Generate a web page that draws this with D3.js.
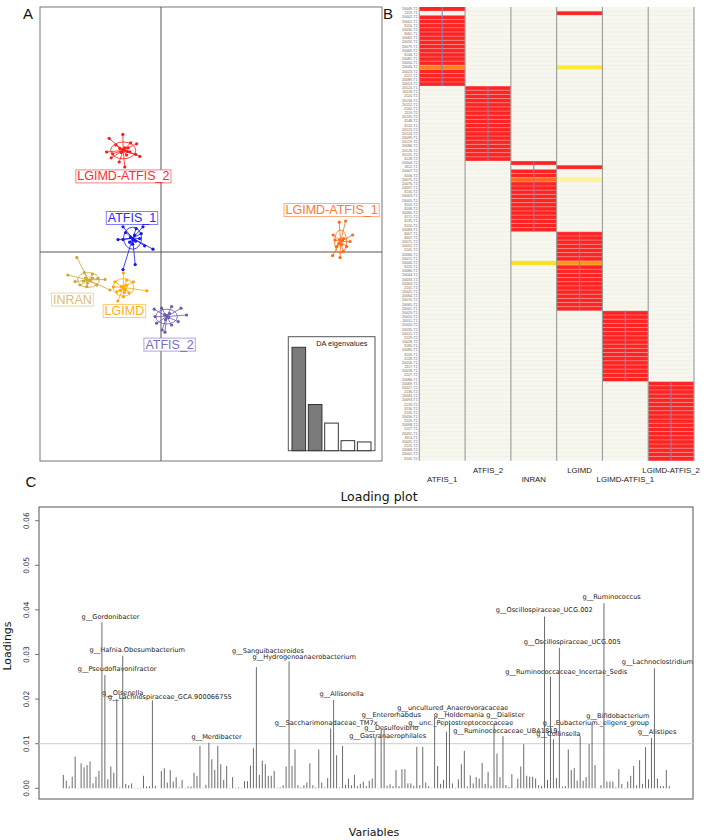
<!DOCTYPE html>
<html><head><meta charset="utf-8">
<script src="https://cdn.jsdelivr.net/npm/d3@7"></script>
<style>body{margin:0;background:#fff}svg{display:block}</style>
</head><body><svg id="c" width="709" height="840"></svg>
<script>
// ---------------- DATA ----------------
const groups = ["ATFIS_1","ATFIS_2","INRAN","LGIMD","LGIMD-ATFIS_1","LGIMD-ATFIS_2"];
// DA scatter: group centroids (LD1, LD2)
const centroidLD1 = [-1.42, 0.28, -3.63, -1.88, 8.98, -1.89];
const centroidLD2 = [0.69, -3.23, -1.40, -1.77, 0.52, 5.08];
// individual scores, offsets from centroid (LD units)
const pointsATFIS1 = [[-0.48,0.57],[-0.35,0.28],[0.18,0.48],[0.52,0.57],[-0.73,-0.07],[-0.48,-0.07],[0.35,-0.02],[0.43,0.23],[1.02,-0.55],[0.60,-0.38],[-0.48,-1.57],[0.13,-1.32],[0.05,-0.10],[-0.10,0.05],[0.15,-0.15],[-0.15,-0.20],[0.10,0.15],[0,-0.30]];
const pointsATFIS2 = [[-0.62,0.37],[-0.25,0.42],[0.25,0.50],[0.72,0.42],[1.00,0.08],[0.58,-0.25],[0.25,-0.42],[-0.22,-0.67],[-0.08,-0.78],[-0.50,-0.33],[-0.58,0],[0.10,-0.05],[-0.10,0.10],[0.15,0.15],[-0.05,-0.15],[0,0.05]];
const pointsINRAN = [[-0.58,1.13],[-1.03,0.25],[-0.67,-0.08],[-0.42,-0.25],[-0.20,0.37],[0.20,0.30],[0.47,0.08],[0.83,0.03],[0.42,-0.25],[-0.08,-0.33],[1.08,-0.50],[0.10,-0.05],[-0.15,0.10],[-0.05,-0.15],[0.20,0.10],[-0.25,-0.05]];
const pointsLGIMD = [[0,0.73],[-0.42,0.28],[-0.50,0.03],[-0.33,-0.22],[0,-0.47],[0.28,-0.27],[1.17,-0.17],[0.50,0.28],[0.17,0.37],[-0.28,-0.68],[0.10,-0.10],[-0.10,0.05],[0.15,0.10],[-0.15,-0.15],[0.05,-0.25]];
const pointsLGIMDATFIS1 = [[-0.07,0.97],[0.25,1.03],[-0.37,0.33],[-0.28,0.08],[0.60,0.33],[0.47,0],[-0.40,-0.70],[-0.03,-0.80],[0.13,-0.50],[0.30,-0.25],[-0.20,-0.25],[0.10,0.05],[-0.10,-0.10],[0.05,-0.15],[0.15,0.15],[-0.05,0.10]];
const pointsLGIMDATFIS2 = [[-0.70,0.60],[-0.02,0.80],[-0.37,0.27],[0.37,0.38],[0.67,0.33],[-0.83,-0.08],[-0.53,-0.17],[0.33,-0.07],[0.83,-0.30],[0.62,-0.20],[-0.20,-0.58],[0.08,-0.83],[-0.60,-0.37],[0.17,-0.23],[0,0.05],[0.08,0.13],[-0.17,0.10],[0.25,0.13],[-0.10,-0.10],[0.20,-0.05]];
// inertia ellipse half-axes (LD units)
const ellipseRx = [0.45, 0.54, 0.55, 0.52, 0.30, 0.63];
const ellipseRy = [0.55, 0.37, 0.37, 0.44, 0.58, 0.42];
// label anchors (LD units)
const labelLD1 = [-1.45, 0.43, -4.43, -1.83, 8.53, -1.88];
const labelLD2 = [1.70, -4.63, -2.38, -2.95, 2.10, 3.78];
// DA eigenvalues
const eigenvalues = [103, 46, 27.5, 10, 8.7];
const eigenRetained = 2;

// Heatmap: samples grouped by original group
const blockSizes = [19, 18, 17, 19, 17, 19];
const sampleLabels = [
 "20049-T2","2119-T1","20002-T2","20001-T2","3150-T2","20030-T2","3061-T1","20062-T1","20092-T2","20079-T1","20069-T2","3144-T2","20081-T1","20050-T1","20045-T2","20023-T2","2122-T2","20089-T1","20053-T2",
 "20124-T1","20118-T1","2120-T2","20134-T2","20122-T1","2162-T1","2119-T2","20135-T2","3148-T2","3120-T1","20123-T2","20124-T2","20099-T1","20129-T2","20086-T2","20126-T2","20131-T2","3128-T2",
 "20004-T2","3112-T1","20007-T2","3106-T2","20075-T2","20076-T1","20097-T1","3130-T2","20003-T1","20005-T2","3102-T2","3108-T2","20060-T2","3171-T2","3135-T1","3120-T2","20083-T1",
 "3007-T1","3007-T2","20071-T2","20052-T2","2141-T2","20066-T2","20071-T1","20040-T2","3125-T1","20080-T1","20044-T2","20033-T2","20063-T2","2141-T1","20025-T1","20064-T2","20070-T2","20065-T2","20001-T1",
 "20029-T1","20010-T2","20011-T1","20020-T2","20035-T2","20015-T2","2129-T2","20028-T2","3180-T1","20085-T1","3109-T1","2128-T2","20016-T1","2117-T1","20018-T1","2127-T2","20086-T1",
 "20069-T1","20027-T2","2136-T2","20043-T2","20093-T1","2133-T2","3136-T2","2135-T2","20056-T1","2129-T1","20098-T2","2127-T1","20092-T1","3114-T1","20031-T2","2125-T2","20068-T2","20001-T2","3145-T2"
];
// posterior membership rows that differ from their own group (row, posteriors per group)
const posteriorRows = [1, 14, 38, 41, 61];
const posteriorValues = [
 [0, 0, 0, 1, 0, 0],
 [0.62, 0, 0, 0.38, 0, 0],
 [0, 0, 0, 1, 0, 0],
 [0, 0, 0.68, 0.28, 0, 0],
 [0, 0, 0.42, 0.58, 0, 0]
];

// Loading plot
const loadings = [
 0.0030,0.0017,0.0004,0.0026,0.0071,0.0001,0.0056,0.0047,0.0052,0.0060,
 0.0011,0.0026,0.0039,0.0372,0.0254,0.0020,0.0049,0.0035,0.0200,0.0002,
 0.0297,0.0010,0.0007,0.0011,0.0001,0.0001,0.0001,0.0028,0.0004,0.0005,
 0.0197,0.0005,0.0000,0.0039,0.0045,0.0013,0.0041,0.0015,0.0025,0.0002,
 0.0019,0.0001,0.0004,0.0004,0.0035,0.0028,0.0095,0.0001,0.0008,0.0102,
 0.0065,0.0041,0.0095,0.0054,0.0019,0.0050,0.0001,0.0025,0.0001,0.0002,
 0.0001,0.0016,0.0016,0.0051,0.0090,0.0272,0.0030,0.0062,0.0054,0.0028,
 0.0028,0.0039,0.0001,0.0002,0.0007,0.0049,0.0284,0.0050,0.0087,0.0007,
 0.0002,0.0007,0.0013,0.0056,0.0007,0.0002,0.0087,0.0013,0.0002,0.0023,
 0.0134,0.0198,0.0074,0.0002,0.0095,0.0008,0.0022,0.0007,0.0030,0.0005,
 0.0010,0.0015,0.0005,0.0017,0.0022,0.0113,0.0001,0.0131,0.0134,0.0006,
 0.0009,0.0005,0.0041,0.0005,0.0043,0.0043,0.0011,0.0011,0.0005,0.0093,
 0.0007,0.0093,0.0013,0.0005,0.0001,0.0160,0.0050,0.0010,0.0019,0.0127,
 0.0146,0.0011,0.0001,0.0020,0.0054,0.0084,0.0004,0.0029,0.0011,0.0025,
 0.0022,0.0057,0.0010,0.0037,0.0005,0.0146,0.0078,0.0025,0.0117,0.0007,
 0.0003,0.0032,0.0001,0.0022,0.0049,0.0099,0.0028,0.0026,0.0026,0.0022,
 0.0007,0.0005,0.0385,0.0019,0.0250,0.0110,0.0023,0.0315,0.0004,0.0005,
 0.0087,0.0041,0.0045,0.0017,0.0117,0.0017,0.0025,0.0099,0.0146,0.0052,
 0.0001,0.0007,0.0415,0.0015,0.0015,0.0015,0.0002,0.0043,0.0010,0.0001,
 0.0015,0.0028,0.0050,0.0007,0.0063,0.0010,0.0092,0.0020,0.0113,0.0269,
 0.0022,0.0005,0.0005,0.0041,0.0005
];
const loadingThreshold = 0.01;
const yTicksC = [0, 0.01, 0.02, 0.03, 0.04, 0.05, 0.06];
// labelled taxa: name, label anchor (variable index, loading)
const taxaNames = ["g__Gordonibacter","g__Hafnia.Obesumbacterium","g__Pseudoflavonifractor","g__Olsenella","g__Lachnospiraceae_GCA.900066755","g__Merdibacter","g__Sanguibacteroides","g__Hydrogenoanaerobacterium","g__Saccharimonadaceae_TM7x","g__Allisonella","g__Gastranaerophilales","g__Desulfovibrio","g__Enterorhabdus","g__uncultured_Anaerovoracaceae","g__Holdemania","g__unc._Peptostreptococcaceae","g__Dialister","g__Ruminococcaceae_UBA1819","g__Oscillospiraceae_UCG.002","g__Oscillospiraceae_UCG.005","g__Ruminococcaceae_Incertae_Sedis","g__Collinsella","g__.Eubacterium._eligens_group","g__Ruminococcus","g__Bifidobacterium","g__Lachnoclostridium","g__Alistipes"];
const taxaLabelIdx = [15.9,24.9,18.1,20.0,35.9,51.6,68.9,81.1,88.5,93.7,109.2,110.4,110.4,131.1,133.2,133.8,148.8,148.8,161.9,171.3,169.3,166.7,179.3,184.6,186.7,200.0,199.9];
const taxaLabelVal = [0.0385,0.0309,0.0267,0.0214,0.0205,0.0114,0.0308,0.0295,0.0146,0.0211,0.0118,0.0136,0.0164,0.0181,0.0164,0.0146,0.0164,0.0129,0.0400,0.0327,0.0260,0.0121,0.0147,0.0430,0.0163,0.0284,0.0126];

// ---------------- STYLE ----------------
const pointColor = ["#1414f0","#6a5cb0","#cfa632","#ffa800","#ff6a14","#ff1a1a"];
const labelColor = ["#2a2aff","#7a70c0","#dcc071","#ffae1a","#ff7a30","#ff2a2a"];
const SANS = "'Liberation Sans', Arial, sans-serif";
const DEJA = "'DejaVu Sans', sans-serif";

const svg = d3.select("#c");

// ---------------- PANEL A ----------------
const ax = d3.scaleLinear().domain([-6.05, 11.05]).range([40, 382]);
const ay = d3.scaleLinear().domain([-10.45, 12.25]).range([461, 7]);
const gA = svg.append("g");
gA.append("rect").attr("x",40).attr("y",7).attr("width",342).attr("height",454)
  .attr("fill","#fff").attr("stroke","#777").attr("stroke-width",1);
gA.append("line").attr("x1",40).attr("x2",382).attr("y1",ay(0)).attr("y2",ay(0)).attr("stroke","#555").attr("stroke-width",1);
gA.append("line").attr("x1",ax(0)).attr("x2",ax(0)).attr("y1",7).attr("y2",461).attr("stroke","#555").attr("stroke-width",1);

const pointSets = [pointsATFIS1, pointsATFIS2, pointsINRAN, pointsLGIMD, pointsLGIMDATFIS1, pointsLGIMDATFIS2];
groups.forEach((g, i) => {
  const cx = centroidLD1[i], cy = centroidLD2[i];
  const col = pointColor[i];
  const gg = gA.append("g");
  gg.append("ellipse").attr("cx", ax(cx)).attr("cy", ay(cy))
    .attr("rx", ax(cx + ellipseRx[i]) - ax(cx)).attr("ry", ay(cy) - ay(cy + ellipseRy[i]))
    .attr("fill","none").attr("stroke", col).attr("stroke-width",0.8);
  const pts = pointSets[i].map(d => [cx + d[0], cy + d[1]]);
  gg.selectAll("line.s").data(pts).join("line")
    .attr("x1", ax(cx)).attr("y1", ay(cy))
    .attr("x2", d => ax(d[0])).attr("y2", d => ay(d[1]))
    .attr("stroke", col).attr("stroke-width", 0.8);
  gg.selectAll("circle").data(pts).join("circle")
    .attr("cx", d => ax(d[0])).attr("cy", d => ay(d[1])).attr("r", 1.6).attr("fill", col);
});
// labels
groups.forEach((g, i) => {
  const lg = gA.append("g");
  const t = lg.append("text").attr("x", ax(labelLD1[i])).attr("y", ay(labelLD2[i]))
    .attr("text-anchor","middle").attr("dominant-baseline","central")
    .attr("font-family", SANS).attr("font-size", 12.5).attr("fill", labelColor[i]).text(g);
  const bb = t.node().getBBox();
  lg.insert("rect","text").attr("x", bb.x - 1.5).attr("y", bb.y + 0.5).attr("width", bb.width + 3).attr("height", bb.height - 1)
    .attr("fill","#fff").attr("stroke", labelColor[i]).attr("stroke-opacity",0.6).attr("stroke-width",1);
});
// eigenvalue inset
const ex = d3.scaleBand().domain(d3.range(eigenvalues.length)).range([292, 371]).paddingInner(0.168).paddingOuter(0);
const ey = d3.scaleLinear().domain([0, eigenvalues[0]]).range([450.7, 347.3]);
gA.append("rect").attr("x",288.3).attr("y",336.7).attr("width",86.7).attr("height",114)
  .attr("fill","#fff").attr("stroke","#555").attr("stroke-width",1);
gA.selectAll("rect.eig").data(eigenvalues).join("rect").attr("class","eig")
  .attr("x",(d,i)=>ex(i)).attr("width",ex.bandwidth())
  .attr("y",d=>ey(d)).attr("height",d=>ey(0)-ey(d))
  .attr("fill",(d,i)=> i < eigenRetained ? "#7a7a7a" : "#fff").attr("stroke","#333").attr("stroke-width",1);
gA.append("text").attr("x",367.5).attr("y",343.5).attr("text-anchor","end").attr("dominant-baseline","central")
  .attr("font-family",SANS).attr("font-size",7.4).attr("fill","#222").text("DA eigenvalues");

// ---------------- PANEL B ----------------
const nRows = d3.sum(blockSizes);
const rowGroup = [];
blockSizes.forEach((n, g) => { for (let k = 0; k < n; k++) rowGroup.push(g); });
const matrix = rowGroup.map((g, r) => {
  const idx = posteriorRows.indexOf(r);
  if (idx >= 0) return posteriorValues[idx];
  return groups.map((_, j) => j === g ? 1 : 0);
});
const hx = d3.scaleBand().domain(groups).range([419.3, 694]);
const hy = d3.scaleBand().domain(d3.range(nRows)).range([7, 460.7]);
const heat = d3.scaleLinear().domain([0, 0.25, 0.4, 0.5, 0.6, 0.75, 1])
  .range(["#f7f7ef","#fff8b8","#ffe81a","#ffc000","#ff8a1a","#ff4a20","#ff2323"]);
const gB = svg.append("g");
matrix.forEach((row, r) => {
  gB.selectAll(null).data(row).join("rect")
    .attr("x",(d,j)=>hx(groups[j])).attr("y",hy(r)).attr("width",hx.bandwidth()).attr("height",hy.bandwidth()+0.05)
    .attr("fill",d=>heat(d));
});
// row separators
gB.selectAll("line.rs").data(d3.range(1, nRows)).join("line")
  .attr("x1",419.3).attr("x2",694).attr("y1",d=>hy(d)).attr("y2",d=>hy(d))
  .attr("stroke","#dfe2d2").attr("stroke-opacity",0.6).attr("stroke-width",0.6);
// column lines
gB.selectAll("line.cl").data(d3.range(groups.length + 1)).join("line")
  .attr("x1",d=> d < groups.length ? hx(groups[d]) : hx.range()[1]).attr("x2",d=> d < groups.length ? hx(groups[d]) : hx.range()[1])
  .attr("y1",7).attr("y2",460.7).attr("stroke","#9a9a9a").attr("stroke-width",1.1);
// trace lines in own-group blocks
let start = 0;
blockSizes.forEach((n, g) => {
  const xc = hx(groups[g]) + hx.bandwidth()/2;
  gB.append("line").attr("x1",xc).attr("x2",xc).attr("y1",hy(start)).attr("y2",hy(start+n-1)+hy.bandwidth())
    .attr("stroke","#7c86c4").attr("stroke-opacity",0.9).attr("stroke-width",1.2);
  start += n;
});
// row labels
gB.selectAll("text.rl").data(sampleLabels).join("text")
  .attr("x",417.5).attr("y",(d,i)=>hy(i)+hy.bandwidth()/2).attr("text-anchor","end").attr("dominant-baseline","central")
  .attr("font-family",SANS).attr("font-size",3.6).attr("fill","#666").text(d=>d);
// column labels (staggered)
gB.selectAll("text.cl").data(groups).join("text")
  .attr("x",d=>hx(d)+hx.bandwidth()/2).attr("y",(d,i)=> i % 2 === 0 ? 482 : 473)
  .attr("text-anchor","middle").attr("font-family",SANS).attr("font-size",7.8).attr("fill","#222").text(d=>d);

// panel letters
[["A",28,13],["B",388,13],["C",31,481]].forEach(p => {
  svg.append("text").attr("x",p[1]).attr("y",p[2]).attr("text-anchor","middle").attr("dominant-baseline","central")
    .attr("font-family",SANS).attr("font-size",15).attr("fill","#111").text(p[0]);
});

// ---------------- PANEL C ----------------
const cx = d3.scaleLinear().domain([0, loadings.length - 1]).range([63.3, 669.3]);
const cy = d3.scaleLinear().domain([0, 0.06]).range([788.3, 520.7]);
const gC = svg.append("g");
gC.append("rect").attr("x",39).attr("y",507).attr("width",654).attr("height",292)
  .attr("fill","none").attr("stroke","#555").attr("stroke-width",1);
gC.selectAll("line.tk").data(yTicksC).join("line")
  .attr("x1",35).attr("x2",39).attr("y1",d=>cy(d)).attr("y2",d=>cy(d)).attr("stroke","#555").attr("stroke-width",0.8);
gC.selectAll("text.tk").data(yTicksC).join("text")
  .attr("transform",d=>`translate(26,${cy(d)}) rotate(-90)`).attr("text-anchor","middle").attr("dominant-baseline","central")
  .attr("font-family",DEJA).attr("font-size",7.6).attr("fill","#333").text(d3.format(".2f"));
gC.append("line").attr("x1",39).attr("x2",693).attr("y1",cy(loadingThreshold)).attr("y2",cy(loadingThreshold))
  .attr("stroke","#d6d6d6").attr("stroke-width",1.2);
// labels (drawn under bars)
gC.selectAll("text.tx").data(taxaNames).join("text")
  .attr("x",(d,i)=>cx(taxaLabelIdx[i])).attr("y",(d,i)=>cy(taxaLabelVal[i]))
  .attr("text-anchor","middle").attr("dominant-baseline","central")
  .attr("font-family",DEJA).attr("font-size",6.6).attr("fill","#222").text(d=>d);
gC.selectAll("line.bar").data(loadings).join("line")
  .attr("x1",(d,i)=>cx(i)).attr("x2",(d,i)=>cx(i)).attr("y1",cy(0)).attr("y2",d=>cy(d))
  .attr("stroke","#5a5a5a").attr("stroke-width",0.9);
svg.append("text").attr("x",379).attr("y",496).attr("text-anchor","middle").attr("dominant-baseline","central")
  .attr("font-family",DEJA).attr("font-size",12.5).attr("fill","#111").text("Loading plot");
svg.append("text").attr("transform","translate(7,646) rotate(-90)").attr("text-anchor","middle").attr("dominant-baseline","central")
  .attr("font-family",DEJA).attr("font-size",11).attr("fill","#111").text("Loadings");
svg.append("text").attr("x",374).attr("y",832).attr("text-anchor","middle").attr("dominant-baseline","central")
  .attr("font-family",DEJA).attr("font-size",11).attr("fill","#111").text("Variables");
</script></body></html>
